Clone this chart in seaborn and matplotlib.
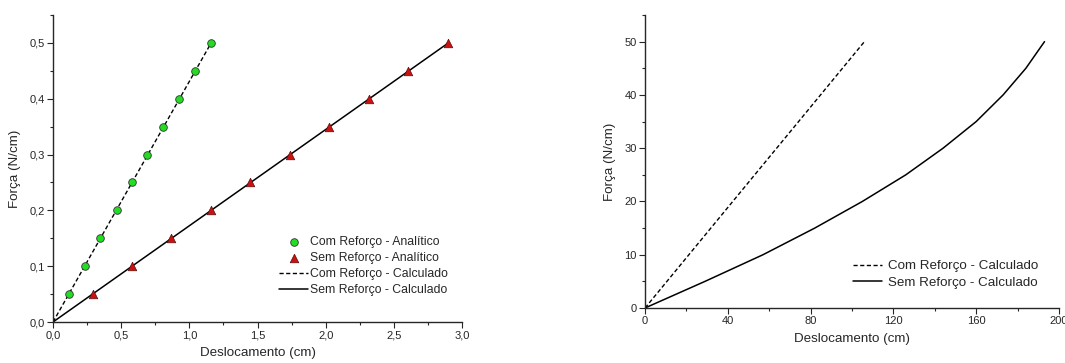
import matplotlib
matplotlib.use("Agg")
import matplotlib.pyplot as plt
import seaborn as sns
from matplotlib.ticker import MultipleLocator, FuncFormatter

# ---- data (left panel) ----
forca_left = [0.05, 0.10, 0.15, 0.20, 0.25, 0.30, 0.35, 0.40, 0.45, 0.50]
com_analitico_x = [0.117, 0.233, 0.348, 0.467, 0.580, 0.693, 0.810, 0.926, 1.045, 1.156]
sem_analitico_x = [0.291, 0.580, 0.869, 1.158, 1.447, 1.736, 2.025, 2.316, 2.604, 2.897]
calc_forca_left = [0.0, 0.5]
com_calc_x_left = [0.0, 1.16]
sem_calc_x_left = [0.0, 2.90]

# ---- data (right panel) ----
forca_right = [0, 5, 10, 15, 20, 25, 30, 35, 40, 45, 50]
com_calc_x_right = [0, 10.6, 21.2, 31.8, 42.4, 53.0, 63.6, 74.2, 84.8, 95.4, 106.0]
sem_calc_x_right = [0, 29, 57, 82, 105, 126, 144, 160, 173, 184, 193]

sns.set_style("ticks")
plt.rcParams['font.family'] = ['Liberation Sans', 'DejaVu Sans']

fig = plt.figure(figsize=(10.65, 3.63), dpi=100)
axL = fig.add_axes([53/1065, 1-322/363, (462-53)/1065, (322-15)/363])
axR = fig.add_axes([645/1065, 1-308/363, (1059-645)/1065, (308-15)/363])

# Left panel
sns.lineplot(x=com_calc_x_left, y=calc_forca_left, ax=axL, color='black', lw=1.0,
             label='Com Reforço - Calculado', zorder=2)
sns.lineplot(x=sem_calc_x_left, y=calc_forca_left, ax=axL, color='black', lw=1.1,
             label='Sem Reforço - Calculado', zorder=2)
axL.get_lines()[0].set_dashes((3, 1.8))
sns.scatterplot(x=com_analitico_x, y=forca_left, ax=axL, marker='o', s=30,
                color='#22dd22', edgecolor='#333333', linewidth=0.6,
                label='Com Reforço - Analítico', zorder=3)
sns.scatterplot(x=sem_analitico_x, y=forca_left, ax=axL, marker='^', s=38,
                color='#cc1111', edgecolor='#551111', linewidth=0.5,
                label='Sem Reforço - Analítico', zorder=3)

handles, labels = axL.get_legend_handles_labels()
order = [2, 3, 0, 1]
axL.legend([handles[i] for i in order], [labels[i] for i in order],
           frameon=False, loc='upper left', bbox_to_anchor=(279/1065, 1-236/363),
           bbox_transform=fig.transFigure,
           fontsize=8.8, handlelength=2.4, handletextpad=0.15, labelspacing=0.33,
           borderaxespad=0, borderpad=0)

axL.set_xlim(0, 3.0)
axL.set_ylim(0, 0.55)
axL.xaxis.set_major_locator(MultipleLocator(0.5))
axL.xaxis.set_minor_locator(MultipleLocator(0.25))
axL.yaxis.set_major_locator(MultipleLocator(0.1))
axL.yaxis.set_minor_locator(MultipleLocator(0.05))
comma1 = FuncFormatter(lambda v, p: f"{v:.1f}".replace('.', ','))
axL.xaxis.set_major_formatter(comma1)
axL.yaxis.set_major_formatter(comma1)
axL.set_xlabel('Deslocamento (cm)', fontsize=9.6)
axL.set_ylabel('Força (N/cm)', fontsize=9.6)

# Right panel
sns.lineplot(x=com_calc_x_right, y=forca_right, ax=axR, color='black', lw=1.0,
             label='Com Reforço - Calculado')
axR.get_lines()[0].set_dashes((3, 1.8))
sns.lineplot(x=sem_calc_x_right, y=forca_right, ax=axR, color='black', lw=1.1,
             label='Sem Reforço - Calculado')
axR.legend(frameon=False, loc='upper left', bbox_to_anchor=(853/1065, 1-260/363),
           bbox_transform=fig.transFigure,
           fontsize=9.6, handlelength=2.2, handletextpad=0.45, labelspacing=0.3,
           borderaxespad=0, borderpad=0)
axR.set_xlim(0, 200)
axR.set_ylim(0, 55)
axR.xaxis.set_major_locator(MultipleLocator(40))
axR.xaxis.set_minor_locator(MultipleLocator(20))
axR.yaxis.set_major_locator(MultipleLocator(10))
axR.yaxis.set_minor_locator(MultipleLocator(5))
axR.set_xlabel('Deslocamento (cm)', fontsize=9.6)
axR.set_ylabel('Força (N/cm)', fontsize=9.6)

for ax in (axL, axR):
    sns.despine(ax=ax)
    ax.tick_params(which='major', direction='out', length=4, width=0.8, labelsize=8, pad=2)
    ax.tick_params(which='minor', direction='out', length=2.5, width=0.8)
    for s in ('left', 'bottom'):
        ax.spines[s].set_linewidth(1.0)
    ax.xaxis.labelpad = 5
    ax.yaxis.labelpad = 6

fig.savefig('out.png', dpi=100)
